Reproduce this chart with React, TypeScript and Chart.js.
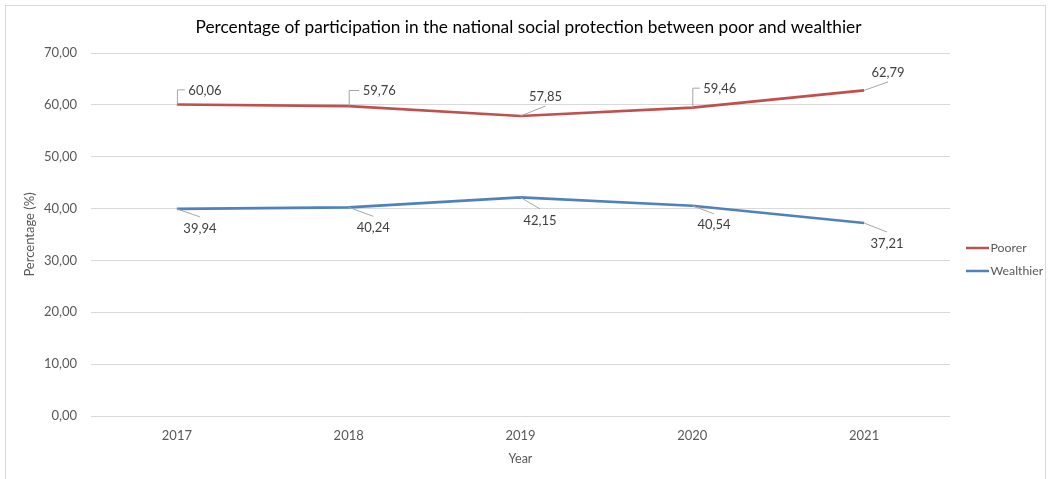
import React, { useEffect, useRef } from "react";
import { Chart, registerables } from "chart.js";

Chart.register(...registerables);

// Chart data
const years = ["2017", "2018", "2019", "2020", "2021"];
const poorer = [60.06, 59.76, 57.85, 59.46, 62.79];
const wealthier = [39.94, 40.24, 42.15, 40.54, 37.21];
const seriesNames = ["Poorer", "Wealthier"];
const yMin = 0;
const yMax = 70;
const yStep = 10;
const chartTitle =
  "Percentage of participation in the national social protection between poor and wealthier";

const RED = "#C0504D";
const BLUE = "#4F81BD";
const FONT = "Lato, 'Open Sans', sans-serif";

const fmt = (v: number) => v.toFixed(2).replace(".", ",");

type Placement = { dx: number; dy: number; leader: "bracket" | "line" };

// Where each value label sits relative to its point (text centre offset)
const labelPlacement: Placement[][] = [
  [
    { dx: 28, dy: -14.7, leader: "bracket" },
    { dx: 30.5, dy: -15.6, leader: "bracket" },
    { dx: 25, dy: -20, leader: "line" },
    { dx: 27.5, dy: -19.5, leader: "bracket" },
    { dx: 24, dy: -18.5, leader: "line" },
  ],
  [
    { dx: 23, dy: 19, leader: "line" },
    { dx: 24.6, dy: 20, leader: "line" },
    { dx: 19.5, dy: 22.5, leader: "line" },
    { dx: 21.7, dy: 19, leader: "line" },
    { dx: 23, dy: 20, leader: "line" },
  ],
];

// White background, outer frame and the centred title
const framePlugin = {
  id: "frame",
  beforeDraw(chart: any) {
    const ctx = chart.ctx;
    ctx.save();
    ctx.fillStyle = "#ffffff";
    ctx.fillRect(0, 0, chart.width, chart.height);
    ctx.strokeStyle = "#d9d9d9";
    ctx.lineWidth = 1;
    ctx.strokeRect(5.5, 5.5, 1040, chart.height + 10);
    ctx.font = `17.3px ${FONT}`;
    ctx.fillStyle = "#000000";
    ctx.textAlign = "center";
    ctx.textBaseline = "middle";
    ctx.fillText(chartTitle, 528.5, 27);
    ctx.restore();
  },
};

const valueLabelPlugin = {
  id: "valueLabels",
  afterDatasetsDraw(chart: any) {
    const ctx = chart.ctx;
    ctx.save();
    const size = 13;
    ctx.font = `${size}px ${FONT}`;
    chart.data.datasets.forEach((ds: any, di: number) => {
      const meta = chart.getDatasetMeta(di);
      meta.data.forEach((pt: any, i: number) => {
        const p = labelPlacement[di][i];
        const text = fmt(ds.data[i]);
        const w = ctx.measureText(text).width;
        const cx = pt.x + p.dx;
        const cy = pt.y + p.dy;
        ctx.strokeStyle = "#a6a6a6";
        ctx.lineWidth = 1;
        ctx.beginPath();
        if (p.leader === "bracket") {
          ctx.moveTo(pt.x + 0.5, pt.y);
          ctx.lineTo(pt.x + 0.5, cy);
          ctx.lineTo(cx - w / 2 - 3.5, cy);
        } else {
          ctx.moveTo(pt.x, pt.y);
          ctx.lineTo(cx, cy + (p.dy < 0 ? 10 : -11));
        }
        ctx.stroke();
        ctx.fillStyle = "#404040";
        ctx.textAlign = "center";
        ctx.textBaseline = "alphabetic";
        ctx.fillText(text, cx, cy + 0.36 * size);
      });
    });
    ctx.restore();
  },
};

const legendPlugin = {
  id: "sideLegend",
  afterDraw(chart: any) {
    const ctx = chart.ctx;
    ctx.save();
    ctx.font = `12.3px ${FONT}`;
    ctx.textAlign = "left";
    ctx.textBaseline = "middle";
    const rows = [248, 271];
    chart.data.datasets.forEach((ds: any, di: number) => {
      const y = rows[di];
      ctx.strokeStyle = ds.borderColor;
      ctx.lineWidth = 2.5;
      ctx.beginPath();
      ctx.moveTo(966, y);
      ctx.lineTo(989, y);
      ctx.stroke();
      ctx.fillStyle = "#595959";
      ctx.fillText(ds.label, 990.5, y + 0.5);
    });
    ctx.restore();
  },
};

export default function App() {
  const ref = useRef<HTMLCanvasElement | null>(null);

  useEffect(() => {
    if (!ref.current) return;
    const chart = new Chart(ref.current, {
      type: "line",
      data: {
        labels: years,
        datasets: [
          {
            label: seriesNames[0],
            data: poorer,
            borderColor: RED,
            backgroundColor: RED,
            borderWidth: 2.6,
            pointRadius: 0,
            tension: 0,
          },
          {
            label: seriesNames[1],
            data: wealthier,
            borderColor: BLUE,
            backgroundColor: BLUE,
            borderWidth: 2.6,
            pointRadius: 0,
            tension: 0,
          },
        ],
      },
      options: {
        animation: false,
        responsive: false,
        layout: { padding: { left: 22, right: 107, top: 53, bottom: 0 } },
        plugins: {
          legend: { display: false },
          tooltip: { enabled: false },
          title: { display: false },
        },
        scales: {
          x: {
            offset: true,
            grid: { display: false, drawTicks: false },
            border: { display: false },
            ticks: {
              color: "#595959",
              font: { family: FONT, size: 13 },
              padding: 12,
            },
            title: {
              display: true,
              text: "Year",
              color: "#595959",
              font: { family: FONT, size: 12.5, lineHeight: 1.2 },
              padding: { top: 0, bottom: 13 },
            },
            afterFit(scale: any) {
              scale.height = 63;
            },
          },
          y: {
            min: yMin,
            max: yMax,
            grid: { color: "#d9d9d9", lineWidth: 1, drawTicks: false },
            border: { display: false },
            ticks: {
              stepSize: yStep,
              color: "#595959",
              font: { family: FONT, size: 13 },
              padding: 14,
              callback: (v: any) => fmt(Number(v)),
            },
            title: {
              display: true,
              text: "Percentage (%)",
              color: "#595959",
              font: { family: FONT, size: 13, lineHeight: 1.2 },
              padding: { top: 0, bottom: 0 },
            },
            afterFit(scale: any) {
              scale.width = 69;
            },
          },
        },
      },
      plugins: [framePlugin, valueLabelPlugin, legendPlugin],
    });
    return () => chart.destroy();
  }, []);

  return (
    <div style={{ position: "absolute", left: 0, top: 0, width: 1057, height: 479 }}>
      <canvas ref={ref} width={1057} height={479} style={{ display: "block" }} />
    </div>
  );
}
